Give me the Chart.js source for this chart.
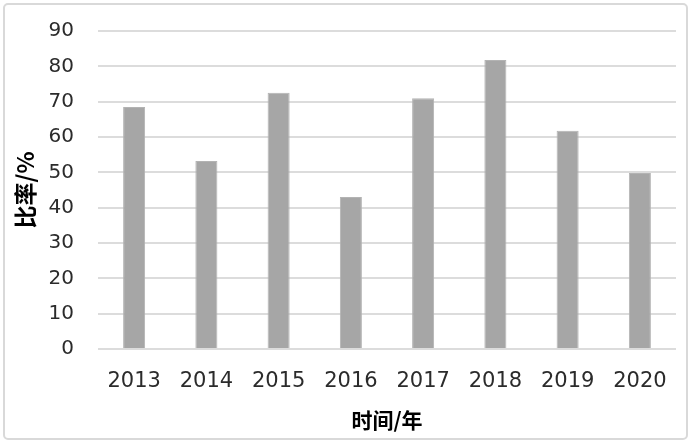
<!DOCTYPE html>
<html>
<head>
<meta charset="utf-8">
<script src="https://cdn.jsdelivr.net/npm/chart.js@4"></script>
<style>
  html, body { margin: 0; padding: 0; background: #fff; }
  #wrap { width: 692px; height: 446px; }
</style>
</head>
<body>
<div id="wrap"><canvas id="chart" width="692" height="446"></canvas></div>
<script>
// values
const years = ['2013', '2014', '2015', '2016', '2017', '2018', '2019', '2020'];
const ratios = [68.5, 53.2, 72.5, 43, 71, 81.8, 61.8, 49.8];
const yTicks = [0, 10, 20, 30, 40, 50, 60, 70, 80, 90];

// outer frame like the office chart box
const frame = {
    id: 'frame',
    beforeDraw(chart) {
        const ctx = chart.ctx;
        ctx.save();
        ctx.fillStyle = '#fff';
        ctx.fillRect(0, 0, chart.width, chart.height);
        ctx.strokeStyle = '#d9d9d9';
        ctx.lineWidth = 2;
        ctx.beginPath();
        ctx.roundRect(4, 4, 683, 435, 4);
        ctx.stroke();
        ctx.restore();
    }
};

document.addEventListener("DOMContentLoaded", function() {
    const ctx = document.getElementById("chart").getContext("2d");

    new Chart(ctx, {
        type: 'bar',
        data: {
            labels: years,
            datasets: [{
                data: ratios,
                backgroundColor: '#a6a6a6',
                borderColor: '#b3b3b3',
                borderWidth: 1,
                barPercentage: 0.305,
                categoryPercentage: 1
            }]
        },
        options: {
            responsive: false,
            animation: false,
            layout: { padding: { left: 8, right: 16, top: 31, bottom: 8 } },
            plugins: {
                legend: { display: false },
                tooltip: { enabled: false }
            },
            scales: {
                x: {
                    grid: { display: false, drawTicks: false },
                    border: { display: false },
                    ticks: {
                        padding: 20,
                        color: '#2b2b2b',
                        font: { family: 'DejaVu Sans', size: 21 }
                    },
                    title: {
                        display: true,
                        text: '时间/年',
                        color: '#000',
                        padding: { top: 0, bottom: 5 },
                        font: { family: 'Noto Sans CJK SC', size: 21, weight: 'bold' }
                    },
                    afterFit: function(scale) { scale.height = 89; }
                },
                y: {
                    min: 0,
                    max: 90,
                    afterBuildTicks: function(scale) {
                        scale.ticks = yTicks.map(v => ({ value: v }));
                    },
                    // invisible tick marks push labels away from the plot
                    grid: { color: '#dcdcdc', lineWidth: 2, drawTicks: true, tickLength: 24, tickColor: 'rgba(0,0,0,0)' },
                    border: { display: false },
                    ticks: {
                        padding: 0,
                        color: '#2b2b2b',
                        font: { family: 'DejaVu Sans', size: 20 }
                    },
                    title: {
                        display: true,
                        text: '比率/%',
                        color: '#000',
                        padding: { top: 3, bottom: 0 },
                        font: { family: 'Noto Sans CJK SC', size: 23, weight: 'bold' }
                    },
                    afterFit: function(scale) { scale.width = 90; }
                }
            }
        },
        plugins: [frame]
    });
});
</script>
</body>
</html>
